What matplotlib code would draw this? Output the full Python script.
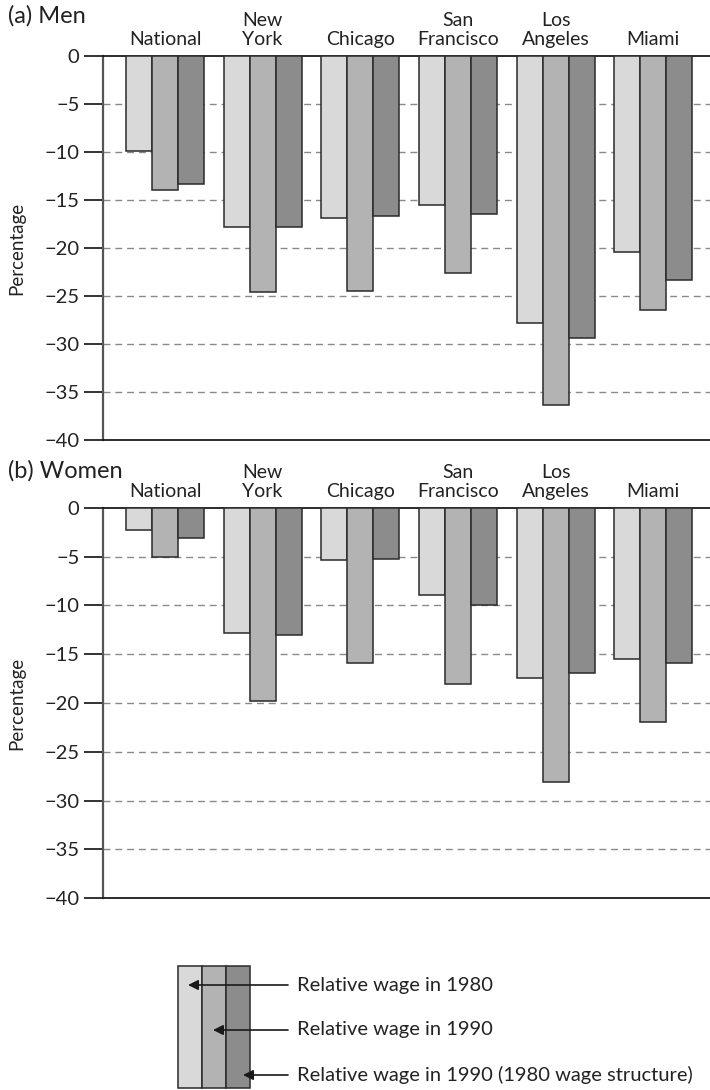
import numpy as np
import matplotlib.pyplot as plt
from matplotlib.patches import Rectangle

plt.rcParams['font.family'] = ['Lato', 'DejaVu Sans']

# cities along the top of each panel
cities = ["National", "New\nYork", "Chicago", "San\nFrancisco", "Los\nAngeles", "Miami"]

# relative wages (percent), men
men_1980 = [-9.9, -17.8, -16.9, -15.5, -27.8, -20.4]
men_1990 = [-14.0, -24.6, -24.5, -22.6, -36.4, -26.5]
men_1990_struct = [-13.3, -17.8, -16.7, -16.5, -29.4, -23.3]

# relative wages (percent), women
women_1980 = [-2.3, -12.8, -5.3, -8.9, -17.4, -15.5]
women_1990 = [-5.0, -19.8, -15.9, -18.0, -28.1, -21.9]
women_1990_struct = [-3.1, -13.0, -5.2, -10.0, -16.9, -15.9]

series_labels = ["Relative wage in 1980",
                 "Relative wage in 1990",
                 "Relative wage in 1990 (1980 wage structure)"]
colors = ["#d9d9d9", "#b3b3b3", "#8c8c8c"]
yticks = [0, -5, -10, -15, -20, -25, -30, -35, -40]

W, H = 710, 1090
TXT = "#222222"


def px_axes(fig, left, top, right, bottom):
    return fig.add_axes([left / W, 1 - bottom / H, (right - left) / W, (bottom - top) / H])


def draw_panel(ax, series):
    x = np.arange(len(cities))
    bw = 0.267
    for i, (vals, c) in enumerate(zip(series, colors)):
        ax.bar(x + (i - 1) * bw, vals, width=bw, color=c,
               edgecolor="#2a2a2a", linewidth=1.1, zorder=3)
    ax.set_xlim(-0.635, 5.58)
    ax.set_ylim(-40, 0)
    ax.set_yticks(yticks)
    ax.set_yticklabels(["0" if t == 0 else "\u2212" + str(-t) for t in yticks])
    for t in yticks[1:-1]:
        ax.axhline(t, color="#8a8a8a", lw=1.0, ls=(0, (5, 3.5)), zorder=1)
    ax.xaxis.tick_top()
    ax.set_xticks(x)
    ax.set_xticklabels(cities, fontsize=14, color=TXT, linespacing=1.1)
    ax.tick_params(axis="x", length=0, pad=6)
    ax.tick_params(axis="y", direction="out", length=14, width=1.3,
                   labelsize=14.5, colors=TXT, pad=3)
    ax.spines["right"].set_visible(False)
    ax.spines["left"].set_color("#555555")
    ax.spines["left"].set_linewidth(1.6)
    for s in ("top", "bottom"):
        ax.spines[s].set_color("#1a1a1a")
        ax.spines[s].set_linewidth(1.3)
    ax.set_ylabel("Percentage", fontsize=13.5, color=TXT)
    ax.yaxis.set_label_coords(-0.128, 0.5)


fig = plt.figure(figsize=(W / 100, H / 100), dpi=100)

ax_men = px_axes(fig, 103, 56, 710, 440)
draw_panel(ax_men, [men_1980, men_1990, men_1990_struct])
fig.text(8 / W, 1 - 16 / H, "(a) Men", fontsize=17, color=TXT, va="center")

ax_women = px_axes(fig, 103, 508, 710, 898)
draw_panel(ax_women, [women_1980, women_1990, women_1990_struct])
fig.text(8 / W, 1 - 471 / H, "(b) Women", fontsize=17, color=TXT, va="center")

# key: three shaded strips with arrows pointing at each one
key = fig.add_axes([0, 0, 1, 1])
key.set_xlim(0, W)
key.set_ylim(H, 0)
key.axis("off")
strip_x = [178, 202, 226]
arrow_tip = [(188, 985), (213, 1030), (243, 1075)]
for sx, c in zip(strip_x, colors):
    key.add_patch(Rectangle((sx, 966), 24, 122, facecolor=c,
                            edgecolor="#2a2a2a", linewidth=1.1))
for (tx, ty), lab in zip(arrow_tip, series_labels):
    key.annotate("", xy=(tx, ty), xytext=(288, ty),
                 arrowprops=dict(arrowstyle="-|>", color="#1a1a1a", lw=1.2,
                                 mutation_scale=15, shrinkA=0, shrinkB=0))
    key.text(297, ty, lab, fontsize=14.5, color=TXT, va="center")

fig.savefig("out.png", dpi=100)
